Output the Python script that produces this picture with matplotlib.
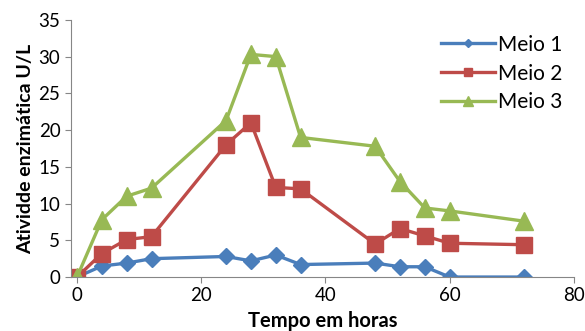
import matplotlib
matplotlib.use("Agg")
import matplotlib.pyplot as plt

# horas
tempo = [0, 4, 8, 12, 24, 28, 32, 36, 48, 52, 56, 60, 72]

meio1 = [0, 1.5, 1.9, 2.5, 2.8, 2.2, 3.0, 1.7, 1.9, 1.4, 1.4, 0, 0]
meio2 = [0, 3.2, 5.1, 5.5, 18.0, 21.0, 12.2, 12.0, 4.5, 6.6, 5.6, 4.6, 4.4]
meio3 = [0, 7.8, 11.0, 12.1, 21.3, 30.3, 30.0, 19.0, 17.8, 13.0, 9.4, 9.0, 7.6]

x_ticks = [0, 20, 40, 60, 80]
y_ticks = [0, 5, 10, 15, 20, 25, 30, 35]

plt.rcParams['font.family'] = ['Lato', 'DejaVu Sans']

fig = plt.figure(figsize=(5.85, 3.31), dpi=100)
ax = fig.add_axes([0.121, 0.163, 0.86, 0.777])

ax.plot(tempo, meio1, color='#4A7EBB', lw=2.4, marker='D', ms=8.5, label='Meio 1')
ax.plot(tempo, meio2, color='#BE4B48', lw=2.4, marker='s', ms=11.5, label='Meio 2')
ax.plot(tempo, meio3, color='#98B954', lw=2.4, marker='^', ms=13, label='Meio 3')

ax.set_xlim(-1, 80)
ax.set_ylim(0, 35)
ax.set_xticks(x_ticks)
ax.set_yticks(y_ticks)
ax.tick_params(labelsize=13.5, color='#868686', length=4)

for s in ['top', 'right']:
    ax.spines[s].set_visible(False)
for s in ['left', 'bottom']:
    ax.spines[s].set_color('#868686')

ax.set_xlabel('Tempo em horas', fontsize=14.5, fontweight='bold', labelpad=5)
ax.set_ylabel('Atividde enzimática U/L', fontsize=14, fontweight='bold', labelpad=3)

leg = ax.legend(loc='upper right', bbox_to_anchor=(1.015, 1.015), frameon=False,
                fontsize=15, handlelength=2.6, markerscale=0.5, handletextpad=0.15,
                labelspacing=0.42)

fig.savefig('out.png', dpi=100)
